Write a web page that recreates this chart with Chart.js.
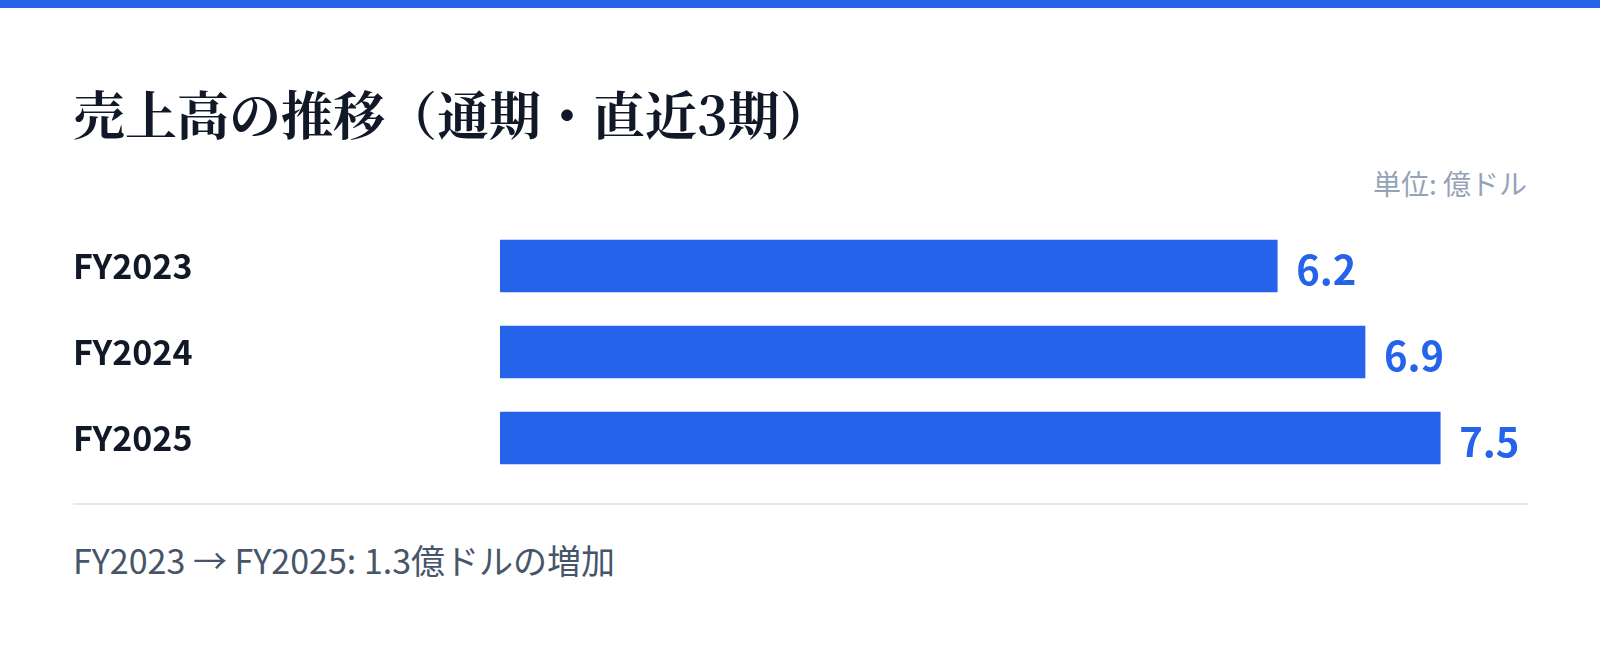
<!DOCTYPE html>
<html lang="ja">
<head>
<meta charset="utf-8">
<title>売上高の推移</title>
<script src="https://cdn.jsdelivr.net/npm/chart.js@4.4.1/dist/chart.umd.min.js"></script>
<style>
  html, body { margin: 0; padding: 0; background: #fff; }
  body {
    width: 1600px; height: 647px; position: relative; overflow: hidden;
    font-family: "Noto Sans CJK JP", "Noto Sans", sans-serif;
  }
  .topbar { position: absolute; left: 0; top: 0; width: 1600px; height: 8px; background: #2563eb; }
  h1 {
    position: absolute; left: 73px; top: 87px; margin: 0;
    font-family: "Noto Serif CJK JP", "Noto Sans CJK JP", serif;
    font-weight: 700; font-size: 52px; line-height: 52px; color: #111827;
  }
  .unit {
    position: absolute; right: 73px; top: 169px;
    font-size: 28px; line-height: 28px; color: #94a3b8;
  }
  #wrap { position: absolute; left: 73px; top: 223px; width: 1455px; height: 258px; }
  .divider { position: absolute; left: 73px; top: 503px; width: 1455px; height: 2px; background: #e2e8f0; }
  .note {
    position: absolute; left: 73px; top: 543px;
    font-size: 34px; line-height: 34px; color: #475569;
  }
</style>
</head>
<body>
<div class="topbar"></div>
<h1>売上高の推移（通期・直近3期）</h1>
<div class="unit">単位: 億ドル</div>
<div id="wrap"><canvas id="salesChart" width="1455" height="258"></canvas></div>
<div class="divider"></div>
<div class="note" id="note"></div>

<script>
// data
const fiscalYears = ["FY2023", "FY2024", "FY2025"];
const salesValues = [6.2, 6.9, 7.5];
const axisMax = 8.2;

const BLUE = "#2563eb";
const INK = "#111827";
const FONT = '"Noto Sans CJK JP", "Noto Sans", sans-serif';

document.getElementById("note").textContent =
  fiscalYears[0] + " → " + fiscalYears[2] + ": " +
  (salesValues[2] - salesValues[0]).toFixed(1) + "億ドルの増加";

// value text to the right of each bar
const valueLabels = {
  id: "valueLabels",
  afterDatasetsDraw(chart) {
    const ctx = chart.ctx;
    const meta = chart.getDatasetMeta(0);
    ctx.save();
    ctx.font = "bold 40px " + FONT;
    ctx.fillStyle = BLUE;
    ctx.textAlign = "left";
    ctx.textBaseline = "middle";
    meta.data.forEach(function (bar, i) {
      ctx.fillText(salesValues[i].toFixed(1), bar.x + 19, bar.y + 4);
    });
    ctx.restore();
  }
};

function drawChart() {
  const ctx = document.getElementById("salesChart").getContext("2d");
  new Chart(ctx, {
    type: "bar",
    data: {
      labels: fiscalYears,
      datasets: [{
        data: salesValues,
        backgroundColor: BLUE,
        borderWidth: 0,
        barThickness: 52
      }]
    },
    options: {
      indexAxis: "y",
      responsive: false,
      animation: false,
      layout: { padding: 0 },
      plugins: {
        legend: { display: false },
        tooltip: { enabled: false }
      },
      scales: {
        x: {
          display: false,
          min: 0,
          max: axisMax
        },
        y: {
          grid: { display: false },
          border: { display: false },
          ticks: {
            color: INK,
            crossAlign: "far",
            padding: 0,
            font: { family: FONT, size: 34, weight: "bold", lineHeight: 1 }
          },
          afterFit(scale) {
            scale.width = 427;
            // labels sit inside the category slots, no extra room needed
            scale.paddingTop = 0;
            scale.paddingBottom = 0;
          }
        }
      }
    },
    plugins: [valueLabels]
  });
}

Promise.all([
  document.fonts.load("bold 40px \"Noto Sans CJK JP\""),
  document.fonts.load("bold 34px \"Noto Sans CJK JP\"")
]).then(drawChart, drawChart);
</script>
</body>
</html>
